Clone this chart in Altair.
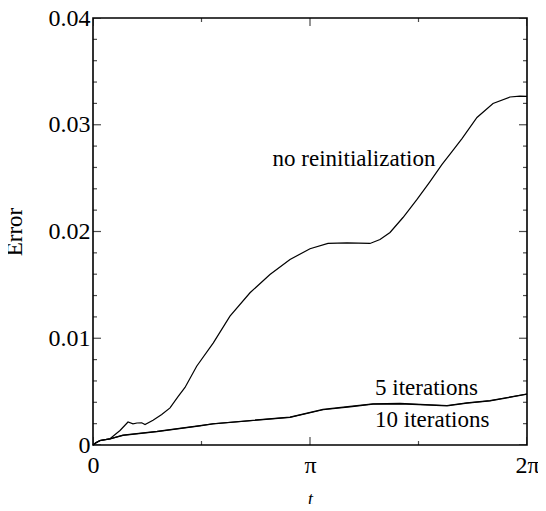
import math
import altair as alt
import pandas as pd

PI = math.pi

# --- data ---
t_noreinit = [0.0, 0.043, 0.101, 0.246, 0.391, 0.507, 0.579, 0.637, 0.705, 0.753, 0.869,
              0.995, 1.115, 1.231, 1.332, 1.501, 1.742, 1.983, 2.273, 2.562, 2.852,
              3.142, 3.402, 3.677, 4.010, 4.155, 4.300, 4.488, 4.691, 4.879, 5.053,
              5.197, 5.342, 5.559, 5.791, 6.037, 6.182, 6.283]
e_noreinit = [0.0, 0.00019, 0.00042, 0.00058, 0.00136, 0.00215, 0.00199, 0.00206, 0.00208,
              0.00192, 0.00232, 0.00286, 0.00348, 0.00454, 0.00539, 0.00738, 0.00957,
              0.01207, 0.01426, 0.01597, 0.01738, 0.01838, 0.01888, 0.01894, 0.01888,
              0.01925, 0.01991, 0.02131, 0.02300, 0.02468, 0.02628, 0.02749, 0.02871,
              0.03068, 0.03199, 0.03260, 0.03269, 0.03265]

t_iter = [0.0, 0.043, 0.101, 0.246, 0.434, 0.927, 1.549, 1.737, 2.273, 2.852, 3.330,
          3.721, 4.054, 4.445, 4.807, 5.125, 5.414, 5.747, 6.283]
e_iter5 = [0.0, 0.00023, 0.00042, 0.00058, 0.00092, 0.00127, 0.00182, 0.00199, 0.00229,
           0.00261, 0.00333, 0.00361, 0.00386, 0.00389, 0.00379, 0.00370, 0.00395,
           0.00416, 0.00478]
e_iter10 = [0.0, 0.00022, 0.00041, 0.00057, 0.00090, 0.00125, 0.00180, 0.00197, 0.00227,
            0.00259, 0.00330, 0.00358, 0.00383, 0.00386, 0.00376, 0.00367, 0.00392,
            0.00413, 0.00476]

label_text = ["no reinitialization", "5 iterations", "10 iterations"]
label_t = [2.60, 4.083, 4.083]
label_e = [0.02618, 0.00473, 0.00173]

x_major = [0.0, PI, 2 * PI]
x_minor = [PI / 2, 3 * PI / 2]
y_major = [0.0, 0.01, 0.02, 0.03, 0.04]
y_minor = [0.002, 0.004, 0.006, 0.008, 0.012, 0.014, 0.016, 0.018,
           0.022, 0.024, 0.026, 0.028, 0.032, 0.034, 0.036, 0.038]

# --- tables ---
lines = pd.concat([
    pd.DataFrame({"t": t_noreinit, "e": e_noreinit, "s": "none"}),
    pd.DataFrame({"t": t_iter, "e": e_iter5, "s": "5"}),
    pd.DataFrame({"t": t_iter, "e": e_iter10, "s": "10"}),
])
labels = pd.DataFrame({"t": label_t, "e": label_e, "txt": label_text})

FONT = "Liberation Serif"
xs = alt.Scale(domain=[0, 2 * PI], nice=False, zero=False)
ys = alt.Scale(domain=[0, 0.04], nice=False, zero=False)

xaxis = alt.Axis(values=x_major,
                 labelExpr="datum.value < 1 ? '0' : (datum.value < 4 ? 'π' : '2π')",
                 ticks=False, domain=False, grid=False,
                 labelFont=FONT, labelFontSize=24, labelColor="black", labelPadding=8,
                 labelFlush=False,
                 title="t", titleFont=FONT, titleFontSize=18, titleFontStyle="italic",
                 titleFontWeight="normal", titleColor="black", titlePadding=13)
yaxis = alt.Axis(values=y_major,
                 labelExpr="datum.value == 0 ? '0' : format(datum.value, '.2f')",
                 ticks=False, domain=False, grid=False,
                 labelFont=FONT, labelFontSize=24, labelColor="black", labelPadding=3,
                 labelFlush=False,
                 title="Error", titleFont=FONT, titleFontSize=23,
                 titleFontWeight="normal", titleColor="black", titlePadding=22)

X = alt.X("t:Q", scale=xs, axis=xaxis)
Y = alt.Y("e:Q", scale=ys, axis=yaxis)

curves = alt.Chart(lines).mark_line(color="black", strokeWidth=1.2).encode(
    x=X, y=Y, detail="s:N")

text = alt.Chart(labels).mark_text(font=FONT, fontSize=23, align="left",
                                   baseline="alphabetic", color="black").encode(
    x=X, y=Y, text="txt:N")


def yticks(vals, size):
    df = pd.DataFrame({"e": vals})
    layers = []
    for side in [0.0, 2 * PI]:
        layers.append(alt.Chart(df).mark_tick(orient="horizontal", size=size, thickness=1.2,
                                              clip=True, color="black").encode(
            y=Y, x=alt.XDatum(side, type="quantitative", scale=xs, axis=xaxis)))
    return layers


def xticks(vals, size):
    df = pd.DataFrame({"t": vals})
    layers = []
    for side in [0.0, 0.04]:
        layers.append(alt.Chart(df).mark_tick(orient="vertical", size=size, thickness=1.2,
                                              clip=True, color="black").encode(
            x=X, y=alt.YDatum(side, type="quantitative", scale=ys, axis=yaxis)))
    return layers


layers = [curves, text] + yticks(y_major, 16) + yticks(y_minor, 8) + \
    xticks(x_major, 16) + xticks(x_minor, 8)

chart = alt.layer(*layers).properties(
    width=434, height=427,
    autosize=alt.AutoSizeParams(type="none"),
    padding={"left": 85, "top": 10, "right": 11, "bottom": 59},
    background="white",
).configure(font=FONT).configure_view(stroke="black", strokeWidth=1.6).configure_axis(
    labelFont=FONT, titleFont=FONT)

chart.save("out.html", embed_options={"renderer": "svg", "actions": False})
